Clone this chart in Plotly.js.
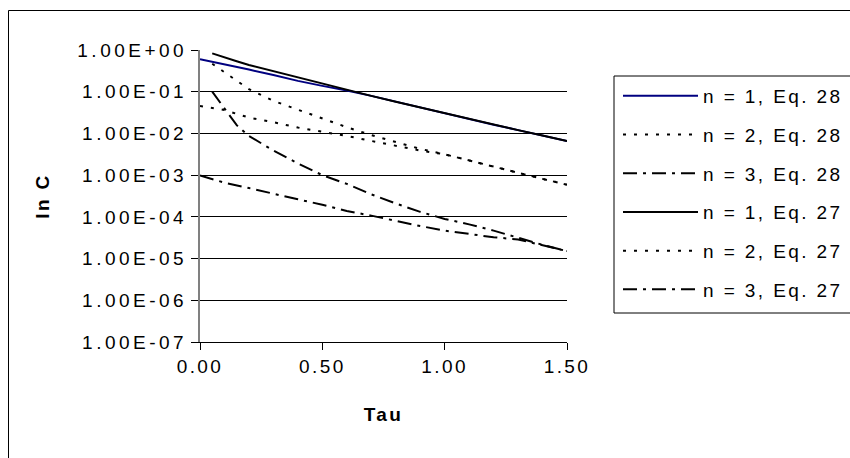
<!DOCTYPE html>
<html>
<head>
<meta charset="utf-8">
<script src="https://cdn.plot.ly/plotly-3.0.1.min.js"></script>
<style>
  html, body { margin: 0; padding: 0; background: #fff; }
  #chart { width: 850px; height: 458px; }
  svg text { letter-spacing: 2.4px; }
  #chart g.ytick text { letter-spacing: 3.5px; }
</style>
</head>
<body>
<div id="chart"></div>
<script>
// ---- data ----
const tau28 = [0, 0.1, 0.2, 0.3, 0.4, 0.5, 0.6, 0.7, 0.8, 0.9, 1.0, 1.1, 1.2, 1.3, 1.4, 1.5];
const tau27 = [0.05, 0.1, 0.15, 0.2, 0.3, 0.4, 0.5, 0.6, 0.7, 0.8, 0.9, 1.0, 1.1, 1.2, 1.3, 1.4, 1.5];

const n1Eq28 = [0.603, 0.457, 0.339, 0.251, 0.182, 0.138, 0.107, 0.0794, 0.0575, 0.0417, 0.0302, 0.0219, 0.0162, 0.0120, 0.00891, 0.00661];
const n2Eq28 = [0.0457, 0.0363, 0.0240, 0.0186, 0.0138, 0.0110, 0.00871, 0.00661, 0.00501, 0.00389, 0.00316, 0.00224, 0.00158, 0.00112, 0.000813, 0.000589];
const n3Eq28 = [0.000977, 0.000661, 0.000490, 0.000355, 0.000263, 0.000195, 0.000138, 0.000107, 7.94e-5, 6.03e-5, 4.68e-5, 3.89e-5, 3.24e-5, 2.88e-5, 2.09e-5, 1.51e-5];

const n1Eq27 = [0.832, 0.661, 0.537, 0.437, 0.309, 0.224, 0.158, 0.112, 0.0794, 0.0575, 0.0417, 0.0302, 0.0219, 0.0162, 0.0120, 0.00891, 0.00661];
const n2Eq27 = [0.468, 0.295, 0.182, 0.115, 0.0603, 0.0372, 0.0234, 0.0141, 0.00912, 0.00617, 0.00427, 0.00316, 0.00224, 0.00158, 0.00112, 0.000813, 0.000589];
const n3Eq27 = [0.1, 0.0398, 0.0158, 0.00871, 0.00389, 0.00191, 0.001, 0.000617, 0.000347, 0.000209, 0.000132, 8.91e-5, 6.61e-5, 4.68e-5, 3.16e-5, 2.14e-5, 1.51e-5];

const seriesNames = ["n = 1, Eq. 28", "n = 2, Eq. 28", "n = 3, Eq. 28", "n = 1, Eq. 27", "n = 2, Eq. 27", "n = 3, Eq. 27"];

const yTickVals = [1e0, 1e-1, 1e-2, 1e-3, 1e-4, 1e-5, 1e-6, 1e-7];
const yTickText = ["1.00E+00", "1.00E-01", "1.00E-02", "1.00E-03", "1.00E-04", "1.00E-05", "1.00E-06", "1.00E-07"];
const xTickVals = [0, 0.5, 1.0, 1.5];

// ---- styling ----
const FONT = "Liberation Sans, Arial, sans-serif";
const FS = 19;
const DOT = "3px,8px";
const DASHDOT = "14px,6px,3px,6px";

// plot area in pixels
const L = 200, R = 567, T = 50, B = 342, W = 850, H = 458;
const px2x = p => (p - L) / (R - L);
const px2y = p => (B - p) / (B - T);

function tr(x, y, name, color, dash, group) {
  return {
    x: x, y: y, name: name, type: "scatter", mode: "lines",
    line: {color: color, width: 2, dash: dash},
    legendgroup: group, hoverinfo: "skip"
  };
}

const data = [
  tr(tau28, n1Eq28, seriesNames[0], "#000080", "solid", "a"),
  tr(tau28, n2Eq28, seriesNames[1], "#000000", DOT, "b"),
  tr(tau28, n3Eq28, seriesNames[2], "#000000", DASHDOT, "c"),
  tr(tau27, n1Eq27, seriesNames[3], "#000000", "solid", "d"),
  tr(tau27, n2Eq27, seriesNames[4], "#000000", DOT, "e"),
  tr(tau27, n3Eq27, seriesNames[5], "#000000", DASHDOT, "f")
];

const layout = {
  width: W, height: H,
  margin: {l: L, r: W - R, t: T, b: H - B, pad: 0, autoexpand: false},
  paper_bgcolor: "#ffffff",
  plot_bgcolor: "#ffffff",
  font: {family: FONT, size: FS, color: "#000"},
  showlegend: true,
  legend: {
    xref: "container", yref: "container",
    x: 618 / W, y: 1 - 77 / H, xanchor: "left", yanchor: "top",
    bgcolor: "rgba(0,0,0,0)", borderwidth: 0,
    font: {family: FONT, size: FS, color: "#000"},
    traceorder: "grouped", tracegroupgap: 11, itemwidth: 75
  },
  xaxis: {
    range: [0, 1.5], tickvals: xTickVals, tickformat: ".2f",
    showgrid: false, zeroline: false,
    showline: true, linecolor: "#000", linewidth: 1,
    ticks: "outside", ticklen: 7, tickcolor: "#000", tickwidth: 1,
    tickfont: {family: FONT, size: FS, color: "#000"},
    title: {text: "<b>Tau</b>", font: {family: FONT, size: FS, color: "#000"}, standoff: 31}
  },
  yaxis: {
    type: "log", range: [-7, 0],
    tickvals: yTickVals, ticktext: yTickText,
    showgrid: true, gridcolor: "#000", gridwidth: 1,
    zeroline: false,
    showline: true, linecolor: "#808080", linewidth: 2,
    ticks: "outside", ticklen: 7, tickcolor: "#000", tickwidth: 1,
    tickfont: {family: FONT, size: FS, color: "#000"},
    title: {text: "<b>ln C</b>", font: {family: FONT, size: FS, color: "#000"}, standoff: 31}
  },
  shapes: [
    // outer chart border
    {type: "rect", xref: "paper", yref: "paper",
     x0: px2x(8.5), x1: px2x(W + 5), y0: px2y(H + 5), y1: px2y(10.5),
     line: {color: "#000", width: 1}, fillcolor: "rgba(0,0,0,0)", layer: "below"},
    // legend box
    {type: "rect", xref: "paper", yref: "paper",
     x0: px2x(614), x1: px2x(W + 5), y0: px2y(313), y1: px2y(76),
     line: {color: "#000", width: 1}, fillcolor: "rgba(0,0,0,0)", layer: "below"}
  ]
};

Plotly.newPlot("chart", data, layout, {staticPlot: true, displayModeBar: false});
</script>
</body>
</html>
